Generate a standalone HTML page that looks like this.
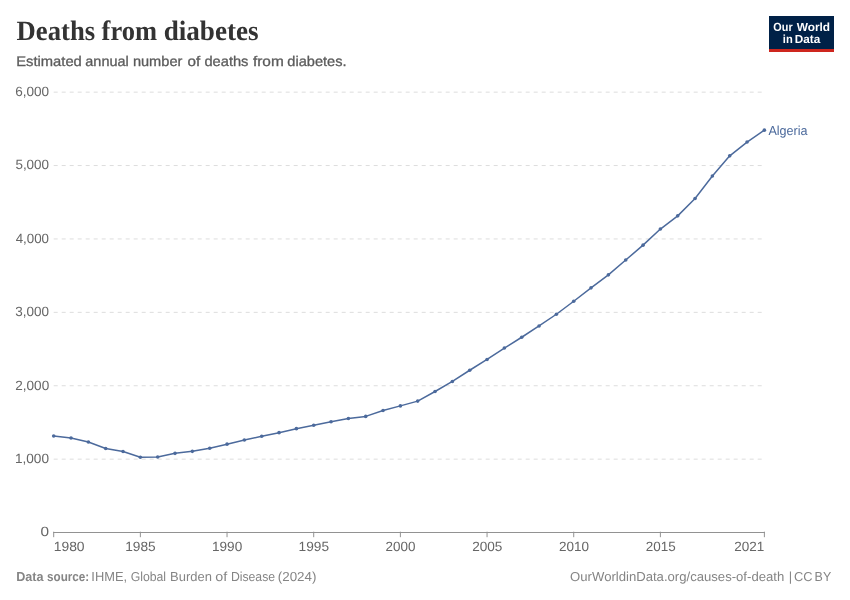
<!DOCTYPE html>
<html lang="en">
<head>
<meta charset="utf-8">
<title>Deaths from diabetes</title>
<style>
html,body{margin:0;padding:0;background:#fff;}
body{width:850px;height:600px;overflow:hidden;}
svg{display:block;will-change:transform;text-rendering:geometricPrecision;}
.sans{font-family:"Liberation Sans",sans-serif;}
.serif{font-family:"Liberation Serif",serif;}
</style>
</head>
<body>
<svg width="850" height="600" viewBox="0 0 850 600">
<rect width="850" height="600" fill="#ffffff"/>
<g id="header">
<text class="serif" x="16.60" y="39.7" font-size="28" fill="#333333" font-weight="bold" textLength="78.50" lengthAdjust="spacingAndGlyphs">Deaths</text>
<text class="serif" x="101.61" y="39.7" font-size="28" fill="#333333" font-weight="bold" textLength="55.36" lengthAdjust="spacingAndGlyphs">from</text>
<text class="serif" x="163.68" y="39.7" font-size="28" fill="#333333" font-weight="bold" textLength="94.98" lengthAdjust="spacingAndGlyphs">diabetes</text>
<text class="sans" x="16.20" y="65.8" font-size="14" fill="#5b5b5b" textLength="65.64" lengthAdjust="spacingAndGlyphs" stroke="#5b5b5b" stroke-width="0.3">Estimated</text>
<text class="sans" x="85.31" y="65.8" font-size="14" fill="#5b5b5b" textLength="43.42" lengthAdjust="spacingAndGlyphs" stroke="#5b5b5b" stroke-width="0.3">annual</text>
<text class="sans" x="132.90" y="65.8" font-size="14" fill="#5b5b5b" textLength="49.47" lengthAdjust="spacingAndGlyphs" stroke="#5b5b5b" stroke-width="0.3">number</text>
<text class="sans" x="187.53" y="65.8" font-size="14" fill="#5b5b5b" textLength="12.73" lengthAdjust="spacingAndGlyphs" stroke="#5b5b5b" stroke-width="0.3">of</text>
<text class="sans" x="204.43" y="65.8" font-size="14" fill="#5b5b5b" textLength="44.03" lengthAdjust="spacingAndGlyphs" stroke="#5b5b5b" stroke-width="0.3">deaths</text>
<text class="sans" x="252.94" y="65.8" font-size="14" fill="#5b5b5b" textLength="30.83" lengthAdjust="spacingAndGlyphs" stroke="#5b5b5b" stroke-width="0.3">from</text>
<text class="sans" x="287.39" y="65.8" font-size="14" fill="#5b5b5b" textLength="59.22" lengthAdjust="spacingAndGlyphs" stroke="#5b5b5b" stroke-width="0.3">diabetes.</text>
</g>
<g id="logo">
<rect x="769" y="16" width="65" height="36" fill="#002147"/>
<rect x="769" y="49" width="65" height="3" fill="#ce261e"/>
<text class="sans" x="773.35" y="30.7" font-size="11.8" fill="#ffffff" font-weight="bold" textLength="19.29" lengthAdjust="spacingAndGlyphs">Our</text>
<text class="sans" x="796.75" y="30.7" font-size="11.8" fill="#ffffff" font-weight="bold" textLength="33.36" lengthAdjust="spacingAndGlyphs">World</text>
<text class="sans" x="782.81" y="42.5" font-size="11.8" fill="#ffffff" font-weight="bold" textLength="9.90" lengthAdjust="spacingAndGlyphs">in</text>
<text class="sans" x="794.81" y="42.5" font-size="11.8" fill="#ffffff" font-weight="bold" textLength="25.51" lengthAdjust="spacingAndGlyphs">Data</text>
</g>
<g id="grid" stroke="#dddddd" stroke-width="1" stroke-dasharray="4 4" fill="none">
<line x1="53.7" x2="764.4" y1="459.15" y2="459.15"/>
<line x1="53.7" x2="764.4" y1="385.75" y2="385.75"/>
<line x1="53.7" x2="764.4" y1="312.35" y2="312.35"/>
<line x1="53.7" x2="764.4" y1="238.95" y2="238.95"/>
<line x1="53.7" x2="764.4" y1="165.55" y2="165.55"/>
<line x1="53.7" x2="764.4" y1="92.15" y2="92.15"/>
</g>
<g id="ylabels">
<text class="sans" x="40.62" y="536.3" font-size="13.4" fill="#666666" textLength="8.53" lengthAdjust="spacingAndGlyphs">0</text>
<text class="sans" x="14.96" y="462.9" font-size="13.4" fill="#666666" textLength="34.03" lengthAdjust="spacingAndGlyphs">1,000</text>
<text class="sans" x="15.25" y="389.5" font-size="13.4" fill="#666666" textLength="33.92" lengthAdjust="spacingAndGlyphs">2,000</text>
<text class="sans" x="15.20" y="316.1" font-size="13.4" fill="#666666" textLength="33.73" lengthAdjust="spacingAndGlyphs">3,000</text>
<text class="sans" x="15.68" y="242.7" font-size="13.4" fill="#666666" textLength="33.32" lengthAdjust="spacingAndGlyphs">4,000</text>
<text class="sans" x="15.42" y="169.3" font-size="13.4" fill="#666666" textLength="33.64" lengthAdjust="spacingAndGlyphs">5,000</text>
<text class="sans" x="15.19" y="95.9" font-size="13.4" fill="#666666" textLength="33.95" lengthAdjust="spacingAndGlyphs">6,000</text>
</g>
<g id="xaxis" stroke="#929292" stroke-width="1" fill="none">
<line x1="53.2" x2="764.9" y1="532.5" y2="532.5"/>
<line x1="53.70" x2="53.70" y1="531.7" y2="537.2"/>
<line x1="140.37" x2="140.37" y1="531.7" y2="537.2"/>
<line x1="227.04" x2="227.04" y1="531.7" y2="537.2"/>
<line x1="313.71" x2="313.71" y1="531.7" y2="537.2"/>
<line x1="400.38" x2="400.38" y1="531.7" y2="537.2"/>
<line x1="487.05" x2="487.05" y1="531.7" y2="537.2"/>
<line x1="573.72" x2="573.72" y1="531.7" y2="537.2"/>
<line x1="660.39" x2="660.39" y1="531.7" y2="537.2"/>
<line x1="764.39" x2="764.39" y1="531.7" y2="537.2"/>
</g>
<g id="xlabels">
<text class="sans" x="53.71" y="550.7" font-size="13.4" fill="#666666" textLength="30.87" lengthAdjust="spacingAndGlyphs">1980</text>
<text class="sans" x="125.24" y="550.7" font-size="13.4" fill="#666666" textLength="30.49" lengthAdjust="spacingAndGlyphs">1985</text>
<text class="sans" x="212.00" y="550.7" font-size="13.4" fill="#666666" textLength="30.23" lengthAdjust="spacingAndGlyphs">1990</text>
<text class="sans" x="298.64" y="550.7" font-size="13.4" fill="#666666" textLength="30.43" lengthAdjust="spacingAndGlyphs">1995</text>
<text class="sans" x="385.60" y="550.7" font-size="13.4" fill="#666666" textLength="29.82" lengthAdjust="spacingAndGlyphs">2000</text>
<text class="sans" x="472.16" y="550.7" font-size="13.4" fill="#666666" textLength="30.25" lengthAdjust="spacingAndGlyphs">2005</text>
<text class="sans" x="558.92" y="550.7" font-size="13.4" fill="#666666" textLength="29.99" lengthAdjust="spacingAndGlyphs">2010</text>
<text class="sans" x="645.72" y="550.7" font-size="13.4" fill="#666666" textLength="29.97" lengthAdjust="spacingAndGlyphs">2015</text>
<text class="sans" x="734.16" y="550.7" font-size="13.4" fill="#666666" textLength="30.07" lengthAdjust="spacingAndGlyphs">2021</text>
</g>
<g id="series">
<path d="M53.70,435.95 L71.03,438.05 L88.37,441.95 L105.70,448.45 L123.04,451.45 L140.37,457.25 L157.70,456.95 L175.04,453.35 L192.37,451.35 L209.71,448.25 L227.04,444.15 L244.37,439.95 L261.71,436.25 L279.04,432.65 L296.38,428.65 L313.71,425.25 L331.04,421.75 L348.38,418.55 L365.71,416.40 L383.05,410.55 L400.38,405.90 L417.71,401.10 L435.05,391.50 L452.38,381.45 L469.72,370.25 L487.05,359.45 L504.38,348.05 L521.72,337.25 L539.05,325.95 L556.39,314.25 L573.72,301.25 L591.05,287.85 L608.39,274.85 L625.72,260.05 L643.06,245.15 L660.39,229.05 L677.72,215.85 L695.06,198.45 L712.39,176.05 L729.73,155.85 L747.06,142.05 L764.39,130.15" fill="none" stroke="#4c6a9c" stroke-width="1.5" stroke-linejoin="round" stroke-linecap="butt"/>
<g fill="#4c6a9c">
<circle cx="53.70" cy="435.95" r="1.8"/><circle cx="71.03" cy="438.05" r="1.8"/><circle cx="88.37" cy="441.95" r="1.8"/><circle cx="105.70" cy="448.45" r="1.8"/><circle cx="123.04" cy="451.45" r="1.8"/><circle cx="140.37" cy="457.25" r="1.8"/><circle cx="157.70" cy="456.95" r="1.8"/><circle cx="175.04" cy="453.35" r="1.8"/><circle cx="192.37" cy="451.35" r="1.8"/><circle cx="209.71" cy="448.25" r="1.8"/><circle cx="227.04" cy="444.15" r="1.8"/><circle cx="244.37" cy="439.95" r="1.8"/><circle cx="261.71" cy="436.25" r="1.8"/><circle cx="279.04" cy="432.65" r="1.8"/><circle cx="296.38" cy="428.65" r="1.8"/><circle cx="313.71" cy="425.25" r="1.8"/><circle cx="331.04" cy="421.75" r="1.8"/><circle cx="348.38" cy="418.55" r="1.8"/><circle cx="365.71" cy="416.40" r="1.8"/><circle cx="383.05" cy="410.55" r="1.8"/><circle cx="400.38" cy="405.90" r="1.8"/><circle cx="417.71" cy="401.10" r="1.8"/><circle cx="435.05" cy="391.50" r="1.8"/><circle cx="452.38" cy="381.45" r="1.8"/><circle cx="469.72" cy="370.25" r="1.8"/><circle cx="487.05" cy="359.45" r="1.8"/><circle cx="504.38" cy="348.05" r="1.8"/><circle cx="521.72" cy="337.25" r="1.8"/><circle cx="539.05" cy="325.95" r="1.8"/><circle cx="556.39" cy="314.25" r="1.8"/><circle cx="573.72" cy="301.25" r="1.8"/><circle cx="591.05" cy="287.85" r="1.8"/><circle cx="608.39" cy="274.85" r="1.8"/><circle cx="625.72" cy="260.05" r="1.8"/><circle cx="643.06" cy="245.15" r="1.8"/><circle cx="660.39" cy="229.05" r="1.8"/><circle cx="677.72" cy="215.85" r="1.8"/><circle cx="695.06" cy="198.45" r="1.8"/><circle cx="712.39" cy="176.05" r="1.8"/><circle cx="729.73" cy="155.85" r="1.8"/><circle cx="747.06" cy="142.05" r="1.8"/><circle cx="764.39" cy="130.15" r="1.8"/>
</g>
<text class="sans" x="768.41" y="134.5" font-size="13" fill="#4c6a9c" textLength="39.12" lengthAdjust="spacingAndGlyphs">Algeria</text>
</g>
<g id="footer">
<text class="sans" x="16.14" y="581.0" font-size="13" fill="#858585" font-weight="bold" textLength="27.32" lengthAdjust="spacingAndGlyphs">Data</text>
<text class="sans" x="47.02" y="581.0" font-size="13" fill="#858585" font-weight="bold" textLength="42.24" lengthAdjust="spacingAndGlyphs">source:</text>
<text class="sans" x="91.33" y="581.0" font-size="13" fill="#858585" textLength="35.74" lengthAdjust="spacingAndGlyphs">IHME,</text>
<text class="sans" x="130.66" y="581.0" font-size="13" fill="#858585" textLength="35.42" lengthAdjust="spacingAndGlyphs">Global</text>
<text class="sans" x="170.12" y="581.0" font-size="13" fill="#858585" textLength="41.74" lengthAdjust="spacingAndGlyphs">Burden</text>
<text class="sans" x="215.36" y="581.0" font-size="13" fill="#858585" textLength="11.97" lengthAdjust="spacingAndGlyphs">of</text>
<text class="sans" x="230.92" y="581.0" font-size="13" fill="#858585" textLength="44.16" lengthAdjust="spacingAndGlyphs">Disease</text>
<text class="sans" x="277.75" y="581.0" font-size="13" fill="#858585" textLength="38.63" lengthAdjust="spacingAndGlyphs">(2024)</text>
<text class="sans" x="570.14" y="581.0" font-size="13" fill="#858585" textLength="214.08" lengthAdjust="spacingAndGlyphs">OurWorldinData.org/causes-of-death</text>
<text class="sans" x="788.80" y="581.0" font-size="13" fill="#858585">|</text>
<text class="sans" x="793.89" y="581.0" font-size="13" fill="#858585" textLength="18.51" lengthAdjust="spacingAndGlyphs">CC</text>
<text class="sans" x="814.61" y="581.0" font-size="13" fill="#858585" textLength="16.60" lengthAdjust="spacingAndGlyphs">BY</text>
</g>
</svg>
</body>
</html>
